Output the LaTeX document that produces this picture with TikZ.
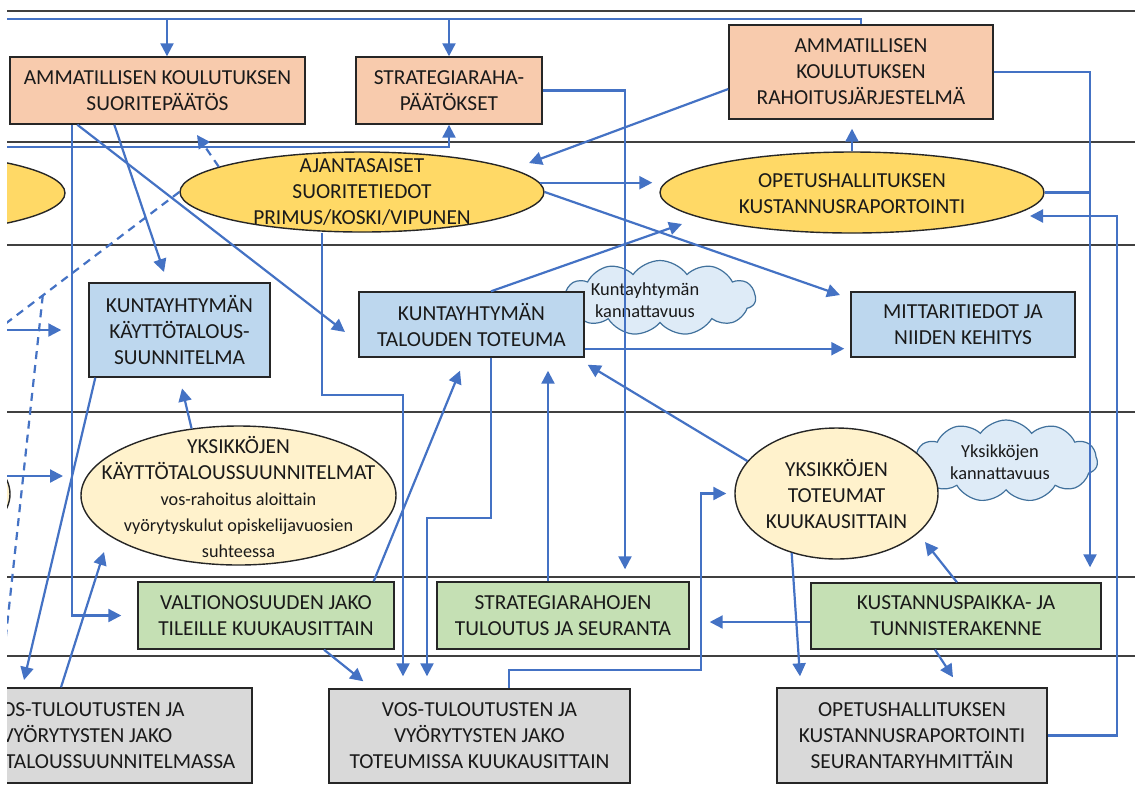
\documentclass[tikz,border=0pt]{standalone}
\usepackage{fontspec}
\setmainfont{Carlito}
\usetikzlibrary{shapes.geometric,shapes.symbols,arrows.meta,calc}
\definecolor{salmon}{HTML}{F8CBAD}
\definecolor{gold}{HTML}{FFD966}
\definecolor{lyellow}{HTML}{FFF2CC}
\definecolor{lblue}{HTML}{BDD7EE}
\definecolor{lgreen}{HTML}{C5E0B4}
\definecolor{lgray}{HTML}{D9D9D9}
\definecolor{cloudfill}{HTML}{DEEBF7}
\definecolor{cloudline}{HTML}{41719C}
\definecolor{cblue}{HTML}{4472C4}
\definecolor{bord}{HTML}{262626}
\definecolor{hl}{HTML}{404040}
\definecolor{txt}{HTML}{1A1A1A}
\newcommand{\smtxt}{\fontsize{9.1}{11.2}\selectfont}
\tikzset{
  hline/.style={draw=hl, line width=0.8pt},
  bx/.style={rectangle, draw=bord, line width=0.7pt, inner sep=0pt, align=center, font=\fontsize{10.7}{13}\selectfont, text=txt},
  salbox/.style={bx, fill=salmon},
  bluebox/.style={bx, fill=lblue},
  grnbox/.style={bx, fill=lgreen},
  grybox/.style={bx, fill=lgray},
  ell/.style={ellipse, draw=bord, line width=0.7pt, inner sep=0pt},
  etext/.style={align=center, inner sep=0pt, font=\fontsize{10.7}{13}\selectfont, text=txt},
  cld/.style={cloud, cloud puffs=11, cloud puff arc=110, cloud ignores aspect, draw=cloudline, fill=cloudfill, line width=0.6pt, inner sep=0pt},
  ctext/.style={align=center, inner sep=0pt, font=\fontsize{9.2}{10.8}\selectfont, text=txt},
  conn/.style={draw=cblue, line width=1.1pt},
  arr/.style={conn, -{Triangle[length=6.5pt,width=6.5pt]}},
  darr/.style={arr, dash pattern=on 4pt off 3pt},
  dline/.style={conn, dash pattern=on 4pt off 3pt},
}
\begin{document}
\begin{tikzpicture}[x=0.5pt,y=-0.5pt]
\useasboundingbox (0,0) rectangle (1135,805);
\clip (7,0) rectangle (1135,805);
% lane lines
\foreach \yy in {11,142,245,412,577,656} \draw[hline] (7,\yy) -- (1135,\yy);

% clouds (behind boxes)
\node[cld, minimum width=95.5pt, minimum height=37.5pt] (cloud1) at (660,298) {};
\node[ctext] (cloud1t) at (645,300) {Kuntayhtymän\\kannattavuus};
\node[cld, minimum width=91.5pt, minimum height=41pt] (cloud2) at (1006,461) {};
\node[ctext] (cloud2t) at (1000,462) {Yksikköjen\\kannattavuus};

% row 1
\node[salbox, minimum width=147.5pt, minimum height=33.5pt] (amsuor) at (157.5,90.5) {AMMATILLISEN KOULUTUKSEN\\SUORITEPÄÄTÖS};
\node[salbox, minimum width=93pt, minimum height=33.5pt] (strpaat) at (449,90.5) {STRATEGIARAHA-\\PÄÄTÖKSET};
\node[salbox, minimum width=132pt, minimum height=47pt] (amrah) at (861,72) {AMMATILLISEN\\KOULUTUKSEN\\RAHOITUSJÄRJESTELMÄ};

% row 2
\node[ell, fill=gold, minimum width=181pt, minimum height=41pt] (leftell) at (-116,193) {};
\node[ell, fill=gold, minimum width=182pt, minimum height=40pt] (ajell) at (362,192) {};
\node[etext] (ajtxt) at (362,192) {AJANTASAISET\\SUORITETIEDOT\\PRIMUS/KOSKI/VIPUNEN};
\node[ell, fill=gold, minimum width=192pt, minimum height=40.5pt] (ophell) at (852,192.5) {};
\node[etext] (ophtxt) at (852,194) {OPETUSHALLITUKSEN\\KUSTANNUSRAPORTOINTI};

% row 3
\node[bluebox, minimum width=90.5pt, minimum height=47pt] (kaytbox) at (179.5,330) {KUNTAYHTYMÄN\\KÄYTTÖTALOUS-\\SUUNNITELMA};
\node[bluebox, minimum width=112.5pt, minimum height=32.5pt] (ttbox) at (471.5,324.5) {KUNTAYHTYMÄN\\TALOUDEN TOTEUMA};
\node[bluebox, minimum width=112pt, minimum height=32.5pt] (mittbox) at (963,324.5) {MITTARITIEDOT JA\\NIIDEN KEHITYS};

% row 4
\node[ell, fill=lyellow, minimum width=157.5pt, minimum height=69.5pt] (leftell2) at (-147.5,494) {};
\node[ell, fill=lyellow, minimum width=157.5pt, minimum height=69.5pt] (ykell) at (238.5,495.5) {};
\node[etext] (yktxt) at (238.5,497) {YKSIKKÖJEN\\KÄYTTÖTALOUSSUUNNITELMAT\\{\smtxt vos-rahoitus aloittain}\\{\smtxt vyörytyskulut opiskelijavuosien}\\{\smtxt suhteessa}};
\node[ell, fill=lyellow, minimum width=101.5pt, minimum height=65.5pt] (yktell) at (836.5,493.5) {};
\node[etext] (ykttxt) at (836.5,494) {YKSIKKÖJEN\\TOTEUMAT\\KUUKAUSITTAIN};

% row 5
\node[grnbox, minimum width=128pt, minimum height=33.5pt] (valtbox) at (266,615.5) {VALTIONOSUUDEN JAKO\\TILEILLE KUUKAUSITTAIN};
\node[grnbox, minimum width=126pt, minimum height=33.5pt] (stratbox) at (563,615.5) {STRATEGIARAHOJEN\\TULOUTUS JA SEURANTA};
\node[grnbox, minimum width=145pt, minimum height=33pt] (kustbox) at (956,616) {KUSTANNUSPAIKKA- JA\\TUNNISTERAKENNE};

% row 6
\node[grybox, minimum width=165pt, minimum height=47.5pt] (voskbox) at (87,735.5) {VOS-TULOUTUSTEN JA\\VYÖRYTYSTEN JAKO\\KÄYTTÖTALOUSSUUNNITELMASSA};
\node[grybox, minimum width=150.5pt, minimum height=47pt] (vostbox) at (479.5,736) {VOS-TULOUTUSTEN JA\\VYÖRYTYSTEN JAKO\\TOTEUMISSA KUUKAUSITTAIN};
\node[grybox, minimum width=135pt, minimum height=47.5pt] (ophsbox) at (912,735.5) {OPETUSHALLITUKSEN\\KUSTANNUSRAPORTOINTI\\SEURANTARYHMITTÄIN};

% ---------- connectors ----------
% top bus
\coordinate (busL) at (-20,19);
\coordinate (b1) at (167,19);
\coordinate (b2) at (449,19);
\draw[conn] (amrah.north) |- (busL);
\draw[arr] (b1) -- (b1 |- amsuor.north);
\draw[arr] (b2) -- (b2 |- strpaat.north);
% second bus
\coordinate (busL2) at (-20,147);
\draw[arr] (busL2) -| (strpaat.south);
% dashed connectors
\coordinate (t3) at (197,135);
\draw[darr] (ajell.170) -- (t3);
\coordinate (dL1) at (-20,343);
\coordinate (dL2) at (-1,700);
\coordinate (dj) at ($(ajell.west)!0.685!(dL1)$);
\draw[dline] (ajell.west) -- (dL1);
\draw[dline] (dj) -- (dL2);
% from AMM. KOUL. SUORITEPÄÄTÖS
\draw[arr, shorten >=8pt] ($(amsuor.south west)+(63,0)$) |- (valtbox.west);
\coordinate (t6) at (345,332);
\draw[arr] ($(amsuor.south west)+(68,0)$) -- (t6);
\coordinate (t7) at (164,272);
\draw[arr] ($(amsuor.south west)+(105,0)$) -- (t7);
% from AJANTASAISET
\draw[arr, shorten >=3.5pt] (ajell.3) -- (ajell.3 -| ophell.west);
\coordinate (t9) at (840,295);
\draw[arr] (ajell.east) -- (t9);
\coordinate (c11) at (322,395);
\draw[arr, shorten >=6pt] (ajell.south -| c11) -- (c11) -| ($(vostbox.north)+(-76.5,0)$);
% rahoitusjärjestelmä
\coordinate (t10) at (529,163);
\draw[arr] ($(amrah.west)+(0,17)$) -- (t10);
\draw[arr, shorten >=7.5pt] (amrah.east) -| ($(kustbox.north)+(134,0)$);
\coordinate (r1) at (1090,192);
\draw[conn] (ophell.east) -- (ophell.east -| r1);
\draw[arr, shorten >=4.5pt] (ophell.north) -- (ophell.north |- amrah.south);
% strategiarahapäätökset
\draw[arr, shorten >=6pt] (strpaat.east) -| ($(stratbox.north)+(62,0)$);
% OPH seurantaryhmittäin -> OPH kustannusraportointi
\coordinate (r2) at (1117,216);
\coordinate (t17) at (1030,216);
\draw[arr] (ophsbox.east) -| (r2) -- (t17);
% talouden toteuma
\coordinate (t12) at (682,224);
\draw[arr] ($(ttbox.north)+(19.5,0)$) -- (t12);
\draw[arr, shorten >=3pt] ($(ttbox.south east)+(0,-9)$) -- ($(mittbox.south west)+(0,-9)$);
\coordinate (c19) at (491,518);
\draw[arr, shorten >=6pt] (ttbox.south -| c19) -- (c19) -| ($(vostbox.north)+(-52.5,0)$);
% into talouden toteuma
\draw[arr] ($(valtbox.north east)+(-21,0)$) -- ($(ttbox.south)+(-11.5,13)$);
\draw[arr, shorten >=6.5pt] ($(stratbox.north)+(-15,0)$) -- ($(ttbox.south -| stratbox.north)+(-15,0)$);
\draw[arr] (yktell.160) -- ($(ttbox.south east)+(3,7)$);
% yksikköjen toteumat
\coordinate (c23) at (701,670);
\draw[arr, shorten >=4pt] ($(vostbox.north)+(29.5,0)$) |- (c23) |- (yktell.west);
\draw[arr] (yktell.233) -- ($(ophsbox.north)+(-112,-11)$);
% kustannuspaikka
\draw[arr] ($(kustbox.north)+(1,0)$) -- ($(yktell.center)+(88.5,48.5)$);
\draw[arr, shorten >=10pt] ($(kustbox.west)+(0,6)$) -- ($(stratbox.east)+(0,6.5)$);
\draw[arr] ($(kustbox.south)+(-21,0)$) -- ($(ophsbox.north)+(41,-10)$);
% valtionosuus
\draw[arr] ($(valtbox.south)+(58,0)$) -- ($(vostbox.north west)+(35,-7)$);
% käyttötaloussuunnitelmat
\draw[arr, shorten >=5.5pt] (ykell.125) -- (kaytbox.south);
\coordinate (t30) at (24,680);
\draw[arr] ($(kaytbox.south west)+(7,0)$) -- (t30);
\coordinate (t31) at (104,552);
\draw[arr] ($(voskbox.north)+(-26,0)$) -- (t31);
% from the left edge
\coordinate (lin1) at (-20,330);
\draw[arr, shorten >=13.5pt] (lin1) -- (kaytbox.west);
\coordinate (lin2) at (-20,476);
\coordinate (t33) at (63,476);
\draw[arr] (lin2) -- (t33);
\end{tikzpicture}
\end{document}
